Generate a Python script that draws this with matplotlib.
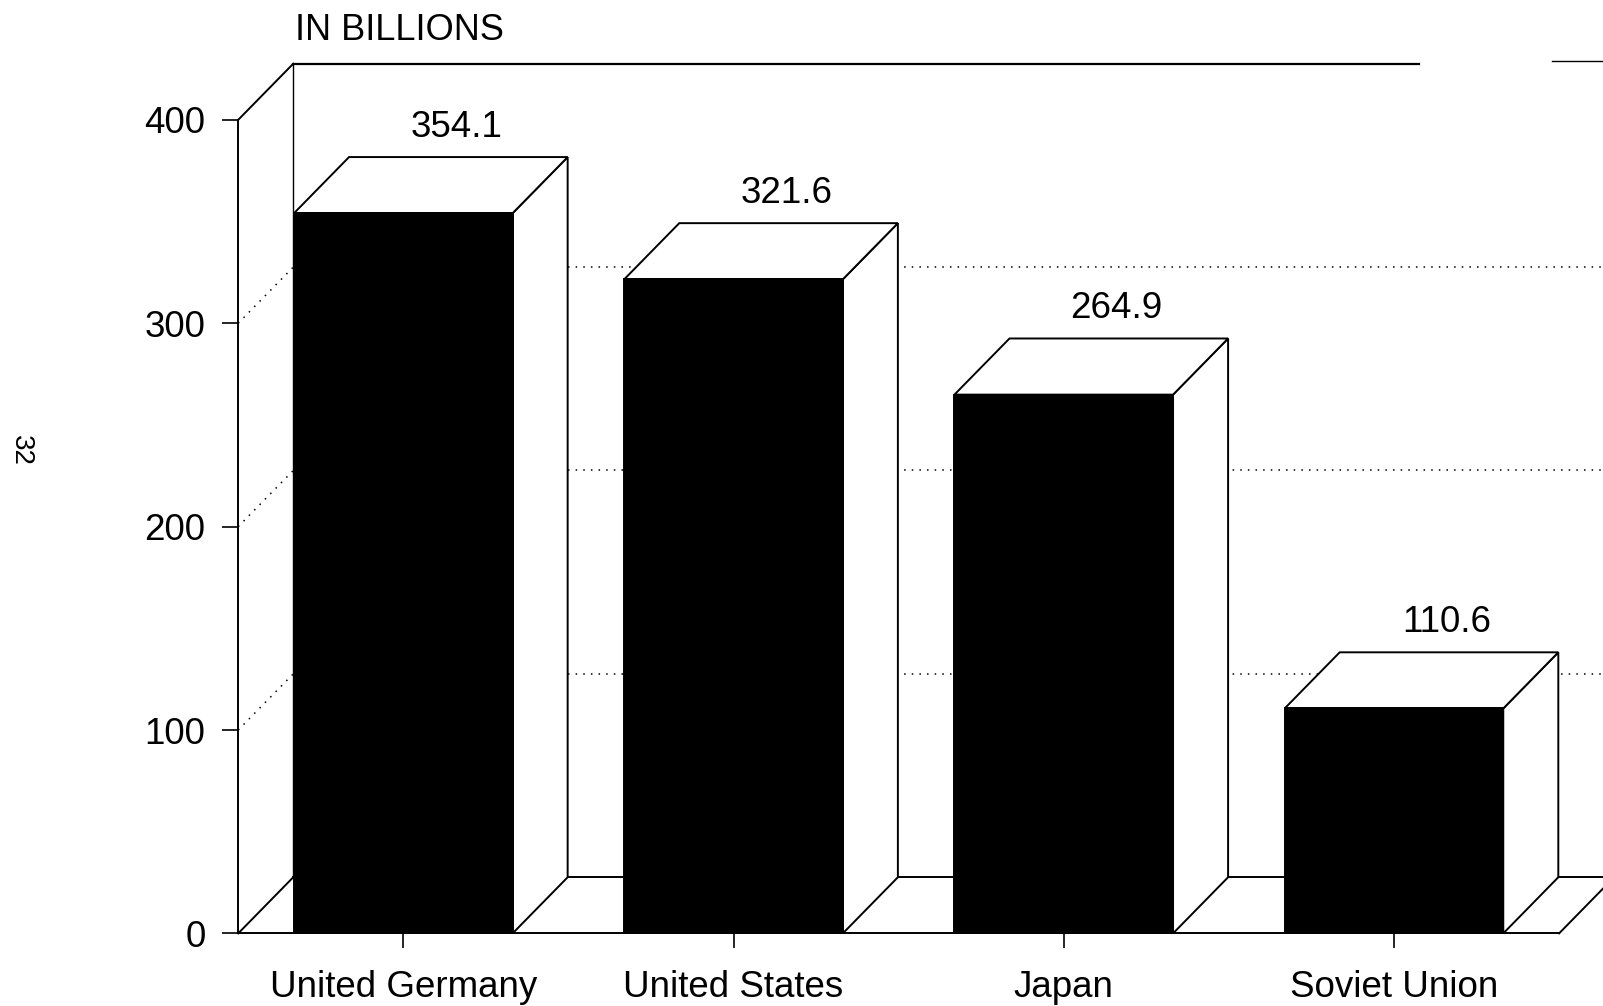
import matplotlib
matplotlib.use("Agg")
import matplotlib.pyplot as plt
from matplotlib.patches import Polygon, Rectangle

# ---- data ----
countries = ["United Germany", "United States", "Japan", "Soviet Union"]
values = [354.1, 321.6, 264.9, 110.6]
value_labels = ["354.1", "321.6", "264.9", "110.6"]
yticks = [0, 100, 200, 300, 400]
ytick_labels = ["0", "100", "200", "300", "400"]
unit_label = "IN BILLIONS"
page_number = "32"

plt.rcParams['font.family'] = ['Liberation Sans', 'DejaVu Sans']
FS = 26.5
LW = 1.4

fig = plt.figure(figsize=(16.03, 10.06), dpi=100)
ax = fig.add_axes([0.1486, 0.07217, 0.8514, 0.8087])
ax.set_xlim(-0.5, 3.633)
ax.set_ylim(0, 400)

DX = 1 / 6      # depth offset in category units
DY = 27.6       # depth offset in value units
HW = 0.331      # half bar width
XR = 3.9        # beyond right figure edge

for s in ['top', 'right']:
    ax.spines[s].set_visible(False)
ax.spines['left'].set_linewidth(LW)
ax.spines['bottom'].set_linewidth(LW)
ax.spines['bottom'].set_bounds(-0.5, 3.5)
ax.spines['left'].set_bounds(0, 400)

ax.set_yticks(yticks)
ax.set_yticklabels(ytick_labels, fontsize=FS)
ax.set_xticks(range(len(countries)))
ax.set_xticklabels(countries, fontsize=FS)
ax.tick_params(axis='y', direction='out', length=11.5, width=1.2, pad=12)
ax.tick_params(axis='x', direction='out', length=11, width=1.2, pad=15)

top = yticks[-1]
# back wall & left wall
ax.plot([-0.5 + DX, -0.5 + DX], [DY, top + DY], color='black', lw=1.0, clip_on=False, zorder=1)
ax.plot([-0.5, -0.5 + DX], [top, top + DY], color='black', lw=LW, clip_on=False, zorder=1)
ax.plot([-0.5 + DX, 3.076], [top + DY, top + DY], color='black', lw=1.6, clip_on=False, zorder=1)
ax.plot([3.48, XR], [top + DY + 1.5, top + DY + 1.5], color='black', lw=1.0, clip_on=False, zorder=1)

for t in yticks[1:-1]:
    ax.plot([-0.5, -0.5 + DX], [t, t + DY], color='black', lw=1.1,
            linestyle=(0, (1, 4)), clip_on=False, zorder=1)
    ax.plot([-0.5 + DX, XR], [t + DY, t + DY], color='black', lw=1.1,
            linestyle=(0, (1, 4)), clip_on=False, zorder=1)

# floor
ax.plot([-0.5, -0.5 + DX], [0, DY], color='black', lw=LW, clip_on=False, zorder=1)
ax.plot([-0.5 + DX, XR], [DY, DY], color='black', lw=LW, clip_on=False, zorder=1)
ax.plot([3.5, 3.5 + DX], [0, DY], color='black', lw=LW, clip_on=False, zorder=1)

# bars
for i, (v, lab) in enumerate(zip(values, value_labels)):
    xl, xr = i - HW, i + HW
    side = Polygon([(xr, 0), (xr + DX, DY), (xr + DX, v + DY), (xr, v)],
                   closed=True, facecolor='white', edgecolor='black', lw=LW,
                   joinstyle='miter', clip_on=False, zorder=3)
    topf = Polygon([(xl, v), (xl + DX, v + DY), (xr + DX, v + DY), (xr, v)],
                   closed=True, facecolor='white', edgecolor='black', lw=LW,
                   joinstyle='miter', clip_on=False, zorder=3)
    front = Rectangle((xl, 0), 2 * HW, v, facecolor='black', edgecolor='black',
                      lw=LW, clip_on=False, zorder=4)
    ax.add_patch(side)
    ax.add_patch(topf)
    ax.add_patch(front)
    ax.text(i + 0.16, v + DY + 14.5, lab, ha='center', va='center', fontsize=FS,
            clip_on=False, zorder=5)

ax.text(-0.329, 443.8, unit_label, ha='left', va='center', fontsize=FS - 0.5, clip_on=False)
fig.text(21 / 1603, 1 - 450 / 1006, page_number, rotation=-90, fontsize=20,
         ha='center', va='center')

fig.savefig('out.png', dpi=100)
